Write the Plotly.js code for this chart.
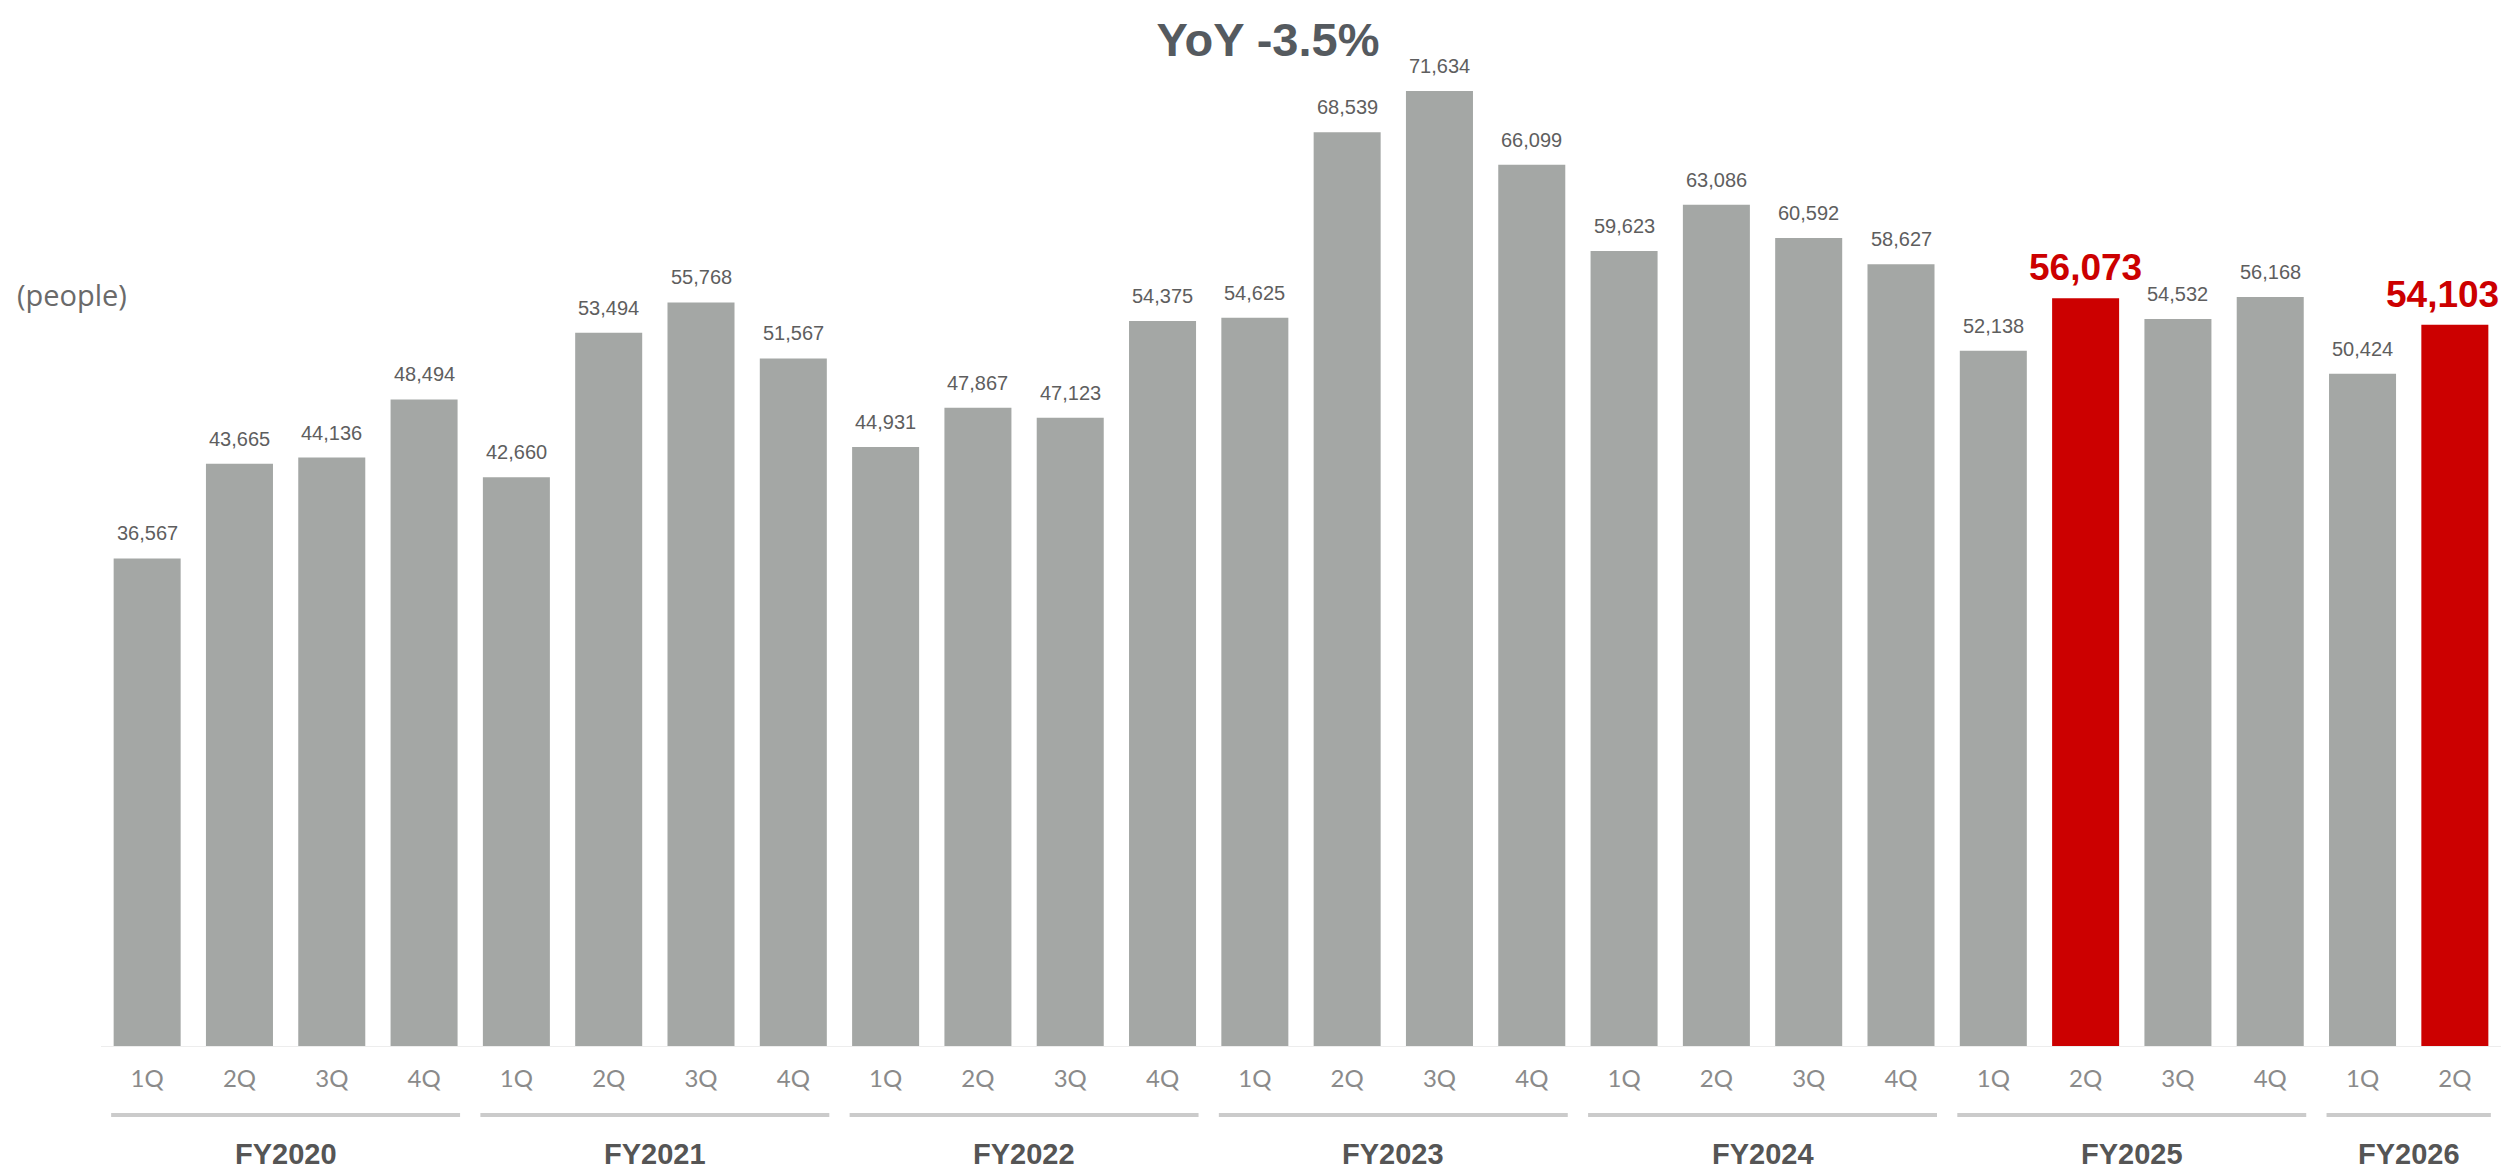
<!DOCTYPE html>
<html>
<head>
<meta charset="utf-8">
<script src="https://cdn.plot.ly/plotly-3.0.1.min.js"></script>
<style>
  html, body { margin: 0; padding: 0; background: #ffffff; }
  #chart { width: 2503px; height: 1170px; }
</style>
</head>
<body>
<div id="chart"></div>
<script>
// Quarterly headcount by fiscal year
const fiscalYears = ['FY2020', 'FY2021', 'FY2022', 'FY2023', 'FY2024', 'FY2025', 'FY2026'];
const quartersPerYear = [4, 4, 4, 4, 4, 4, 2];
const quarterNames = ['1Q', '2Q', '3Q', '4Q'];
const people = [
  36567, 43665, 44136, 48494,   // FY2020
  42660, 53494, 55768, 51567,   // FY2021
  44931, 47867, 47123, 54375,   // FY2022
  54625, 68539, 71634, 66099,   // FY2023
  59623, 63086, 60592, 58627,   // FY2024
  52138, 56073, 54532, 56168,   // FY2025
  50424, 54103                  // FY2026
];
const highlightedPeriods = ['FY2025 2Q', 'FY2026 2Q'];
const headline = 'YoY -3.5%';
const unitLabel = '(people)';

const GRAY = '#a4a7a5';
const RED = '#cc0000';

// expand fiscal years into one entry per quarter
const periods = [];
const groupSpans = [];
fiscalYears.forEach((fy, g) => {
  const start = periods.length;
  for (let q = 0; q < quartersPerYear[g]; q++) {
    periods.push({ fy: fy, q: quarterNames[q] });
  }
  groupSpans.push({ fy: fy, start: start, end: periods.length - 1 });
});

const xIdx = periods.map((p, i) => i);
const isHot = periods.map(p => highlightedPeriods.includes(p.fy + ' ' + p.q));
const lastIdx = periods.length - 1;

const bars = {
  type: 'bar',
  x: xIdx,
  y: people,
  marker: { color: isHot.map(h => h ? RED : GRAY), line: { width: 0 } },
  hoverinfo: 'skip'
};

const annotations = [];

// value labels above every bar (the right-most one is nudged inward to stay on the page)
people.forEach((v, i) => {
  const hot = isHot[i];
  annotations.push({
    x: i, y: v, xref: 'x', yref: 'y',
    text: v.toLocaleString('en-US'),
    showarrow: false,
    xanchor: 'center', yanchor: 'bottom',
    xshift: i === lastIdx ? -12 : 0,
    yshift: hot ? 8 : 12,
    font: hot
      ? { family: 'Liberation Sans, Arial, sans-serif', size: 37, color: RED, weight: 'bold' }
      : { family: 'Liberation Sans, Arial, sans-serif', size: 20, color: '#5e5e5e' }
  });
});

// fiscal-year captions and bracket lines under each group
const shapes = [];
groupSpans.forEach(s => {
  annotations.push({
    x: (s.start + s.end) / 2, y: 0, xref: 'x', yref: 'paper',
    text: '<b>' + s.fy + '</b>',
    showarrow: false,
    xanchor: 'center', yanchor: 'middle',
    yshift: -108,
    font: { family: 'Liberation Sans, Arial, sans-serif', size: 29, color: '#555555' }
  });
  shapes.push({
    type: 'line', xref: 'x', yref: 'paper',
    ysizemode: 'pixel', yanchor: 0,
    x0: s.start - 0.39, x1: s.end + 0.39,
    y0: -69, y1: -69,
    line: { color: '#cbcbcb', width: 4 }
  });
});

// unit caption on the left
annotations.push({
  x: 0, y: 0.752, xref: 'paper', yref: 'paper',
  xshift: -86,
  text: unitLabel, showarrow: false,
  xanchor: 'left', yanchor: 'middle',
  font: { family: 'Open Sans, sans-serif', size: 29, color: '#6a6a6a' }
});

const layout = {
  width: 2503,
  height: 1170,
  margin: { l: 101, r: 2, t: 46, b: 124 },
  paper_bgcolor: '#ffffff',
  plot_bgcolor: '#ffffff',
  showlegend: false,
  bargap: 0.274,
  title: {
    text: '<b>' + headline + '</b>',
    xref: 'container', yref: 'container',
    x: 0.5066, xanchor: 'center',
    y: 0.966, yanchor: 'middle',
    font: { family: 'Liberation Sans, Arial, sans-serif', size: 47, color: '#555a5f' }
  },
  xaxis: {
    range: [-0.5, periods.length - 0.5],
    tickmode: 'array',
    tickvals: xIdx,
    ticktext: periods.map(p => p.q),
    ticks: '',
    ticklabelstandoff: 11,
    tickfont: { family: 'Lato, sans-serif', size: 24, color: '#8a8a8a' },
    showgrid: false,
    zeroline: false,
    showline: true,
    linecolor: '#ededed',
    linewidth: 1,
    fixedrange: true
  },
  yaxis: {
    range: [0, 75000],
    visible: false,
    showgrid: false,
    zeroline: false,
    fixedrange: true
  },
  annotations: annotations,
  shapes: shapes
};

Plotly.newPlot('chart', [bars], layout, { displayModeBar: false, staticPlot: true });
</script>
</body>
</html>
